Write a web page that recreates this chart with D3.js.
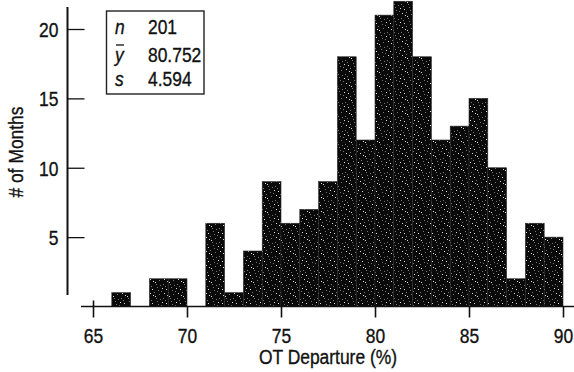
<!DOCTYPE html>
<html>
<head>
<meta charset="utf-8">
<script src="https://cdn.jsdelivr.net/npm/d3@7"></script>
<style>
  body { margin: 0; background: #fff; }
  svg { display: block; }
  text { font-family: "Liberation Sans", Arial, sans-serif; fill: #111; stroke: #111; stroke-width: 0.35px; }
</style>
</head>
<body>
<svg id="chart"></svg>
<script>
// histogram of monthly on-time departure %
const binStarts = [65, 66, 67, 68, 69, 70, 71, 72, 73, 74, 75, 76, 77, 78, 79, 80, 81, 82, 83, 84, 85, 86, 87, 88, 89];
const counts    = [0, 1, 0, 2, 2, 0, 6, 1, 4, 9, 6, 7, 9, 18, 12, 21, 22, 18, 12, 13, 15, 10, 2, 6, 5];
const xTicks = [65, 70, 75, 80, 85, 90];
const yTicks = [5, 10, 15, 20];
const statNames = ["n", "y", "s"];
const statValues = ["201", "80.752", "4.594"];

let width = 574, height = 372;
const sx = 0.83; // narrow type like the original
let svg = d3.select("#chart").attr("width", width).attr("height", height);

// speckled fill
let defs = svg.append("defs");
let pat = defs.append("pattern").attr("id", "speck")
  .attr("patternUnits", "userSpaceOnUse").attr("width", 14).attr("height", 14);
pat.append("rect").attr("width", 14).attr("height", 14).attr("fill", "#0a0a0a");
const specks = [[1,2],[5,0],[9,4],[12,9],[3,7],[7,11],[10,13],[0,12],[6,5],[13,1],[4,10],[11,6],[8,8],[2,4]];
pat.selectAll("rect.d").data(specks).enter().append("rect")
  .attr("class", "d")
  .attr("x", d => d[0]).attr("y", d => d[1])
  .attr("width", 1).attr("height", 1)
  .attr("fill", (d, i) => i % 3 == 0 ? "#ddd" : "#777");

const x = d3.scaleLinear().domain([65, 90]).range([93, 563]);
const y = d3.scaleLinear().domain([0, 20]).range([306.5, 29]);

svg.selectAll(".bar")
  .data(binStarts.map((b, i) => ({ b: b, c: counts[i] })).filter(d => d.c > 0))
  .enter()
  .append("rect")
  .attr("class", "bar")
  .attr("x", d => x(d.b))
  .attr("y", d => y(d.c))
  .attr("width", d => x(d.b + 1) - x(d.b))
  .attr("height", d => y(0) - y(d.c))
  .attr("fill", "url(#speck)")
  .attr("stroke", "#2a2a2a").attr("stroke-width", 0.6);

// x axis
svg.append("line").attr("x1", 81).attr("x2", 574).attr("y1", y(0)).attr("y2", y(0))
  .attr("stroke", "#111").attr("stroke-width", 1.5);
let gx = svg.append("g").attr("transform", `translate(0,${y(0)})`)
  .call(d3.axisBottom(x).tickValues(xTicks).tickSize(11).tickPadding(0).tickFormat(d3.format("d")));
gx.select(".domain").remove();
gx.selectAll(".tick line").attr("stroke", "#111").attr("stroke-width", 1.6)
  .attr("y1", d => d == 65 ? -6 : 0);
gx.selectAll(".tick text")
  .attr("font-size", "21px")
  .attr("y", 0).attr("dy", 0)
  .attr("transform", `translate(0,36) scale(${sx},1)`);

// y axis
svg.append("line").attr("x1", 67.5).attr("x2", 67.5).attr("y1", 7).attr("y2", 295)
  .attr("stroke", "#111").attr("stroke-width", 2);
let gy = svg.append("g").attr("transform", "translate(67.5,0)")
  .call(d3.axisLeft(y).tickValues(yTicks).tickSize(-17).tickPadding(0));
gy.select(".domain").remove();
gy.selectAll(".tick line").attr("stroke", "#111").attr("stroke-width", 1.3);
gy.selectAll(".tick text")
  .attr("font-size", "21px")
  .attr("x", 0).attr("dy", "0.36em")
  .attr("transform", `translate(-9,0) scale(${sx},1)`);

// axis titles
svg.append("text")
  .attr("transform", `translate(328,364) scale(${sx},1)`)
  .attr("text-anchor", "middle").attr("font-size", "21px")
  .text("OT Departure (%)");
svg.append("text")
  .attr("transform", `translate(23,152) rotate(-90) scale(${sx},1)`)
  .attr("text-anchor", "middle").attr("font-size", "21px")
  .text("# of Months");

// summary box
let box = svg.append("g");
box.append("rect").attr("x", 106.5).attr("y", 11).attr("width", 97.5).attr("height", 83)
  .attr("fill", "#fff").attr("stroke", "#222").attr("stroke-width", 1.4);
const rowY = [34, 62, 86];
statNames.forEach((nm, i) => {
  box.append("text")
    .attr("transform", `translate(115,${rowY[i]}) scale(${sx},1)`)
    .attr("font-size", "21px").attr("font-style", "italic")
    .text(nm);
  box.append("text")
    .attr("transform", `translate(148,${rowY[i]}) scale(${sx},1)`)
    .attr("font-size", "21px")
    .text(statValues[i]);
});
// bar over y
box.append("line").attr("x1", 116).attr("x2", 124).attr("y1", 45).attr("y2", 45)
  .attr("stroke", "#111").attr("stroke-width", 1.3);
</script>
</body>
</html>
